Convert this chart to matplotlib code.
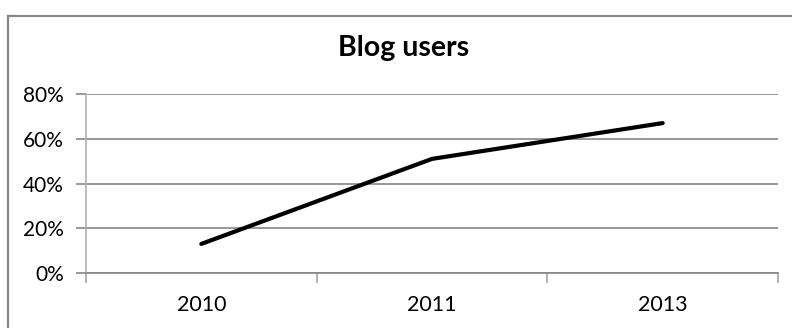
import matplotlib.pyplot as plt
from matplotlib.lines import Line2D
from matplotlib.ticker import FixedLocator, PercentFormatter

# Share of blog users per year
years = ['2010', '2011', '2013']
users = [0.13, 0.51, 0.67]
y_ticks = [0.0, 0.2, 0.4, 0.6, 0.8]

plt.rcParams['font.family'] = ['Lato', 'DejaVu Sans']

W, H = 792, 328
fig = plt.figure(figsize=(W / 100, H / 100), dpi=100)
fig.patch.set_facecolor('white')

# outer chart border (left and top edges visible)
border = '#878787'
fig.add_artist(Line2D([7.5 / W, 7.5 / W], [0, 1 - 15.5 / H], color=border, lw=1.6,
                      transform=fig.transFigure))
fig.add_artist(Line2D([7.5 / W, 1], [1 - 15.5 / H, 1 - 15.5 / H], color=border, lw=1.6,
                      transform=fig.transFigure))

ax = fig.add_axes([86 / W, 1 - 273 / H, (778 - 86) / W, (273 - 94) / H])

x = list(range(len(years)))
ax.plot(x, users, color='black', lw=3, solid_capstyle='round', zorder=3)

ax.set_xlim(-0.5, len(years) - 0.5)
ax.set_ylim(0, 0.8)

ax.xaxis.set_major_locator(FixedLocator([i - 0.5 for i in range(len(years) + 1)]))
ax.xaxis.set_minor_locator(FixedLocator(x))
ax.xaxis.set_major_formatter(plt.NullFormatter())
ax.set_xticks(x, years, minor=True)
ax.tick_params(axis='x', which='major', length=7, width=1.2, color='#a6a6a6', direction='out')
ax.tick_params(axis='x', which='minor', length=0, pad=16, labelsize=15.5)

ax.set_yticks(y_ticks)
ax.yaxis.set_major_formatter(PercentFormatter(1.0, decimals=0))
ax.tick_params(axis='y', length=7, width=1.2, color='#868686', labelsize=15, pad=9)

ax.grid(axis='y', color='#868686', lw=1.2)
ax.set_axisbelow(True)
for side in ('top', 'right'):
    ax.spines[side].set_visible(False)
ax.spines['left'].set_color('#b0b0b0')
ax.spines['left'].set_linewidth(1.2)
ax.spines['bottom'].set_color('#868686')
ax.spines['bottom'].set_linewidth(1.2)

fig.text(404 / W, 1 - 48 / H, 'Blog users', ha='center', va='center',
         fontsize=20.5, fontweight='bold')

fig.savefig('out.png', dpi=100)
